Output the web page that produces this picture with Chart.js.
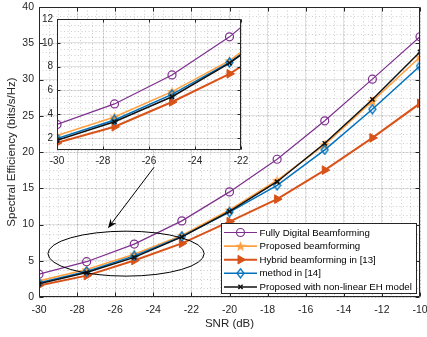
<!DOCTYPE html>
<html><head><meta charset="utf-8">
<script src="https://cdn.jsdelivr.net/npm/chart.js@4.4.1/dist/chart.umd.min.js"></script>
<style>
html,body{margin:0;padding:0;background:#fff;}
#wrap{position:relative;width:427px;height:337px;overflow:hidden;}
canvas{position:absolute;left:0;top:0;}
</style></head><body>
<div id="wrap"><canvas id="main" width="427" height="337"></canvas><canvas id="inset" width="427" height="337"></canvas></div>
<script>
// ---- data ----
const snr = [-30, -27.5, -25, -22.5, -20, -17.5, -15, -12.5, -10];
const fullyDigital = [3.15, 4.87, 7.3, 10.5, 14.5, 19.0, 24.3, 30.05, 35.9];
const proposed = [2.22, 3.78, 5.9, 8.5, 12.0, 16.1, 21.0, 27.0, 33.1];
const hybrid13 = [1.6, 2.95, 5.03, 7.4, 10.4, 13.5, 17.5, 21.95, 26.7];
const method14 = [1.97, 3.52, 5.67, 8.35, 11.7, 15.4, 20.3, 25.9, 31.85];
const nonlinearEH = [1.82, 3.37, 5.47, 8.3, 11.8, 15.9, 21.2, 27.25, 33.8];
const seriesLabels = ['Fully Digital Beamforming', 'Proposed beamforming', 'Hybrid beamforming in [13]', 'method in [14]', 'Proposed with non-linear EH model'];
const xTicks = [-30, -28, -26, -24, -22, -20, -18, -16, -14, -12, -10];
const yTicks = [0, 5, 10, 15, 20, 25, 30, 35, 40];
const insetXTicks = [-30, -28, -26, -24, -22];
const insetYTicks = [2, 4, 6, 8, 10, 12];
const xTitle = 'SNR (dB)';
const yTitle = 'Spectral Efficiency (bits/s/Hz)';
// annotation (data units): ellipse centre / radii, arrow from -> to
const ellipseSpec = [-25.43, 5.98, 4.1, 3.1];
const arrowSpec = [-23.96, 17.9, -26.38, 9.5];

const FONT = 'Liberation Sans, Arial, Helvetica, sans-serif';
const AX = '#262626';
const COLORS = ['#7E2F8E', '#FFA040', '#D95319', '#0072BD', '#111111'];

function starImg(color, r) {
  const s = Math.ceil(r * 2 + 2);
  const c = document.createElement('canvas'); c.width = c.height = s;
  const g = c.getContext('2d');
  g.beginPath();
  for (let i = 0; i < 10; i++) {
    const a = -Math.PI / 2 + i * Math.PI / 5;
    const rr = i % 2 ? r * 0.42 : r;
    g.lineTo(s / 2 + rr * Math.cos(a), s / 2 + 0.5 + rr * Math.sin(a));
  }
  g.closePath(); g.fillStyle = color; g.fill();
  return c;
}
function diamondImg(color, w, h) {
  const c = document.createElement('canvas'); c.width = w + 2; c.height = h + 2;
  const g = c.getContext('2d');
  const cx = c.width / 2, cy = c.height / 2;
  g.beginPath(); g.moveTo(cx, cy - h / 2); g.lineTo(cx + w / 2, cy); g.lineTo(cx, cy + h / 2); g.lineTo(cx - w / 2, cy); g.closePath();
  g.strokeStyle = color; g.lineWidth = 1.3; g.stroke();
  return c;
}
const starStyle = starImg(COLORS[1], 5.5);
const diamondStyle = diamondImg(COLORS[3], 7, 9);

function makeDatasets() {
  return [
    {label: seriesLabels[0], data: fullyDigital, borderColor: COLORS[0], backgroundColor: 'rgba(0,0,0,0)', borderWidth: 1.2,
     pointStyle: 'circle', pointRadius: 4, pointBorderWidth: 1.2, pointBackgroundColor: 'rgba(0,0,0,0)', pointBorderColor: COLORS[0], order: 4},
    {label: seriesLabels[1], data: proposed, borderColor: COLORS[1], backgroundColor: COLORS[1], borderWidth: 1.6,
     pointStyle: starStyle, pointRadius: 5, order: 3},
    {label: seriesLabels[2], data: hybrid13, borderColor: COLORS[2], backgroundColor: COLORS[2], borderWidth: 2,
     pointStyle: 'triangle', pointRotation: 90, pointRadius: 5, pointBorderWidth: 1, pointBackgroundColor: COLORS[2], pointBorderColor: COLORS[2], order: 2},
    {label: seriesLabels[3], data: method14, borderColor: COLORS[3], backgroundColor: 'rgba(0,0,0,0)', borderWidth: 1.5,
     pointStyle: diamondStyle, pointRadius: 4.5, order: 1},
    {label: seriesLabels[4], data: nonlinearEH, borderColor: COLORS[4], backgroundColor: COLORS[4], borderWidth: 1.5,
     pointStyle: 'crossRot', pointRadius: 3, pointBorderWidth: 1.5, pointBorderColor: COLORS[4], order: 0}
  ].map(d => Object.assign({tension: 0, fill: false}, d));
}

function minorGridPlugin(xStep, yStep) {
  return {
    id: 'minorGrid',
    beforeDatasetsDraw(chart) {
      const {ctx, chartArea: a, scales: {x, y}} = chart;
      ctx.save();
      ctx.strokeStyle = 'rgba(38,38,38,0.28)';
      ctx.lineWidth = 0.8;
      ctx.setLineDash([1, 2.5]);
      for (let v = x.min; v <= x.max + 1e-9; v += xStep) {
        const px = Math.round(x.getPixelForValue(v)) + 0.5;
        ctx.beginPath(); ctx.moveTo(px, a.top); ctx.lineTo(px, a.bottom); ctx.stroke();
      }
      for (let v = y.min; v <= y.max + 1e-9; v += yStep) {
        const py = Math.round(y.getPixelForValue(v)) + 0.5;
        ctx.beginPath(); ctx.moveTo(a.left, py); ctx.lineTo(a.right, py); ctx.stroke();
      }
      ctx.restore();
    }
  };
}
function drawBox(chart, tickLen) {
  const {ctx, chartArea: a, scales: {x, y}} = chart;
  ctx.save();
  ctx.strokeStyle = AX; ctx.lineWidth = 1; ctx.setLineDash([]);
  const L = Math.round(a.left) + 0.5, R = Math.round(a.right) - 0.5, T = Math.round(a.top) + 0.5, B = Math.round(a.bottom) - 0.5;
  ctx.beginPath(); ctx.rect(L, T, R - L, B - T); ctx.stroke();
  ctx.beginPath();
  x.ticks.forEach(t => {
    const px = Math.round(x.getPixelForValue(t.value)) + 0.5;
    ctx.moveTo(px, B); ctx.lineTo(px, B - tickLen);
    ctx.moveTo(px, T); ctx.lineTo(px, T + tickLen);
  });
  y.ticks.forEach(t => {
    const py = Math.round(y.getPixelForValue(t.value)) + 0.5;
    ctx.moveTo(L, py); ctx.lineTo(L + tickLen, py);
    ctx.moveTo(R, py); ctx.lineTo(R - tickLen, py);
  });
  ctx.stroke();
  ctx.restore();
}

const drawPoint = (Chart.helpers && Chart.helpers.drawPoint) ? Chart.helpers.drawPoint : null;

const mainExtras = {
  id: 'mainExtras',
  afterDatasetsDraw(chart) {
    const {ctx, scales: {x, y}} = chart;
    drawBox(chart, 4);
    // ellipse
    const cx = x.getPixelForValue(ellipseSpec[0]), cy = y.getPixelForValue(ellipseSpec[1]);
    const rx = Math.abs(x.getPixelForValue(ellipseSpec[0] + ellipseSpec[2]) - cx);
    const ry = Math.abs(y.getPixelForValue(ellipseSpec[1] + ellipseSpec[3]) - cy);
    ctx.save();
    ctx.strokeStyle = '#000'; ctx.lineWidth = 1;
    ctx.beginPath(); ctx.ellipse(cx, cy, rx, ry, 0, 0, Math.PI * 2); ctx.stroke();
    // arrow
    const x1 = x.getPixelForValue(arrowSpec[0]), y1 = y.getPixelForValue(arrowSpec[1]);
    const x2 = x.getPixelForValue(arrowSpec[2]), y2 = y.getPixelForValue(arrowSpec[3]);
    const ang = Math.atan2(y2 - y1, x2 - x1);
    ctx.beginPath(); ctx.moveTo(x1, y1); ctx.lineTo(x2 - 4 * Math.cos(ang), y2 - 4 * Math.sin(ang)); ctx.stroke();
    const hl = 10, hw = 0.38;
    ctx.beginPath();
    ctx.moveTo(x2, y2);
    ctx.lineTo(x2 - hl * Math.cos(ang - hw), y2 - hl * Math.sin(ang - hw));
    ctx.lineTo(x2 - hl * 0.6 * Math.cos(ang), y2 - hl * 0.6 * Math.sin(ang));
    ctx.lineTo(x2 - hl * Math.cos(ang + hw), y2 - hl * Math.sin(ang + hw));
    ctx.closePath(); ctx.fillStyle = '#000'; ctx.fill();
    ctx.restore();
  },
  afterDraw(chart) {
    // legend box
    const {ctx} = chart;
    const bx = 221.5, by = 223.5, bw = 195, bh = 70;
    ctx.save();
    ctx.fillStyle = '#fff'; ctx.fillRect(bx, by, bw, bh);
    ctx.strokeStyle = AX; ctx.lineWidth = 1; ctx.strokeRect(bx, by, bw, bh);
    ctx.font = '9.7px ' + FONT; ctx.textBaseline = 'middle'; ctx.textAlign = 'left';
    chart.data.datasets.forEach((ds, i) => {
      const ry = 232.5 + i * 13.6;
      ctx.strokeStyle = ds.borderColor; ctx.lineWidth = ds.borderWidth; ctx.setLineDash([]);
      ctx.beginPath(); ctx.moveTo(224, ry); ctx.lineTo(257, ry); ctx.stroke();
      const ps = ds.pointStyle;
      if (ps instanceof HTMLCanvasElement) {
        ctx.drawImage(ps, 240.5 - ps.width / 2, ry - ps.height / 2);
      } else if (drawPoint) {
        ctx.fillStyle = ds.pointBackgroundColor || ds.backgroundColor;
        ctx.strokeStyle = ds.pointBorderColor || ds.borderColor;
        ctx.lineWidth = ds.pointBorderWidth || 1;
        drawPoint(ctx, {pointStyle: ps, rotation: ds.pointRotation || 0, radius: ds.pointRadius, borderWidth: ds.pointBorderWidth || 1}, 240.5, ry);
      }
      ctx.fillStyle = '#000';
      ctx.fillText(ds.label, 259.5, ry + 0.5);
    });
    ctx.restore();
  }
};

const tickFont = {family: FONT, size: 10.5};
new Chart(document.getElementById('main'), {
  type: 'line',
  data: {labels: snr, datasets: makeDatasets()},
  options: {
    responsive: false, animation: false, parsing: true,
    layout: {padding: {top: 7, right: 7, left: 0, bottom: 0}},
    plugins: {legend: {display: false}, tooltip: {enabled: false}},
    scales: {
      x: {
        type: 'linear', min: -30, max: -10,
        afterBuildTicks: s => { s.ticks = xTicks.map(v => ({value: v})); },
        afterFit: s => { s.height = 40; s.paddingLeft = 0; s.paddingRight = 0; },
        grid: {color: 'rgba(38,38,38,0.13)', lineWidth: 1, drawTicks: false},
        border: {display: false},
        ticks: {color: AX, font: tickFont, padding: 7, maxRotation: 0, autoSkip: false},
        title: {display: true, text: xTitle, color: AX, font: {family: FONT, size: 11.5}, padding: {top: 0, bottom: 6}}
      },
      y: {
        type: 'linear', min: 0, max: 40,
        afterBuildTicks: s => { s.ticks = yTicks.map(v => ({value: v})); },
        afterFit: s => { s.width = 39; s.paddingTop = 0; s.paddingBottom = 0; },
        grid: {color: 'rgba(38,38,38,0.13)', lineWidth: 1, drawTicks: false},
        border: {display: false},
        ticks: {color: AX, font: tickFont, padding: 5, autoSkip: false},
        title: {display: true, text: yTitle, color: AX, font: {family: FONT, size: 11.5}, padding: {top: 5, bottom: 0}}
      }
    }
  },
  plugins: [minorGridPlugin(0.5, 1.25), mainExtras]
});

const insetExtras = {
  id: 'insetExtras',
  beforeDraw(chart) {
    const {ctx, chartArea: a} = chart;
    ctx.save(); ctx.fillStyle = '#fff'; ctx.fillRect(a.left, a.top, a.right - a.left, a.bottom - a.top); ctx.restore();
  },
  afterDatasetsDraw(chart) { drawBox(chart, 3); }
};
const insetFont = {family: FONT, size: 10};
new Chart(document.getElementById('inset'), {
  type: 'line',
  data: {labels: snr, datasets: makeDatasets()},
  options: {
    responsive: false, animation: false,
    layout: {padding: {top: 19, right: 186, left: 0, bottom: 167}},
    plugins: {legend: {display: false}, tooltip: {enabled: false}},
    scales: {
      x: {
        type: 'linear', min: -30, max: -22,
        afterBuildTicks: s => { s.ticks = insetXTicks.map(v => ({value: v})); },
        afterFit: s => { s.height = 20; s.paddingLeft = 0; s.paddingRight = 0; },
        grid: {color: 'rgba(38,38,38,0.13)', lineWidth: 1, drawTicks: false},
        border: {display: false},
        ticks: {color: AX, font: insetFont, padding: 5, maxRotation: 0, autoSkip: false}
      },
      y: {
        type: 'linear', min: 1, max: 12,
        afterBuildTicks: s => { s.ticks = insetYTicks.map(v => ({value: v})); },
        afterFit: s => { s.width = 57; s.paddingTop = 0; s.paddingBottom = 0; },
        grid: {color: 'rgba(38,38,38,0.13)', lineWidth: 1, drawTicks: false},
        border: {display: false},
        ticks: {color: AX, font: insetFont, padding: 4, autoSkip: false}
      }
    }
  },
  plugins: [insetExtras, minorGridPlugin(0.5, 0.5)]
});
</script>
</body></html>
